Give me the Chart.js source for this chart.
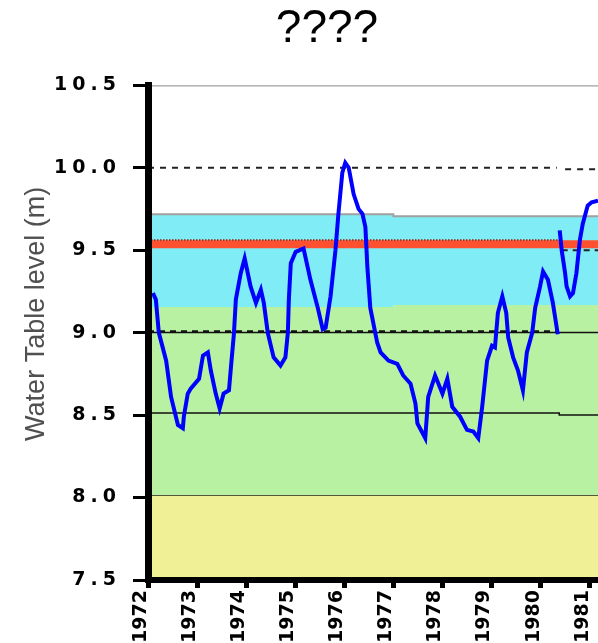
<!DOCTYPE html>
<html><head><meta charset="utf-8">
<script src="https://cdn.jsdelivr.net/npm/chart.js@4"></script>
<style>html,body{margin:0;padding:0;background:#fff;overflow:hidden}</style>
</head><body>
<canvas id="c" width="598" height="643"></canvas>
<script>
// ---- data ----
const chartTitle = '????';
const yAxisTitle = 'Water Table level (m)';
const yearTicks = [1972, 1973, 1974, 1975, 1976, 1977, 1978, 1979, 1980, 1981];
const levelTicks = [7.5, 8.0, 8.5, 9.0, 9.5, 10.0, 10.5];

const years1 = [1972.10,1972.16,1972.22,1972.37,1972.47,1972.61,1972.71,1972.73,1972.81,1972.87,
  1973.04,1973.12,1973.22,1973.28,1973.38,1973.46,1973.54,1973.65,1973.69,1973.75,
  1973.79,1973.89,1973.97,1974.09,1974.20,1974.30,1974.36,1974.44,1974.56,1974.70,
  1974.80,1974.85,1974.87,1974.91,1975.01,1975.17,1975.31,1975.46,1975.56,1975.62,
  1975.72,1975.82,1975.88,1975.96,1976.02,1976.09,1976.19,1976.29,1976.37,1976.43,
  1976.47,1976.53,1976.63,1976.67,1976.74,1976.90,1977.08,1977.20,1977.35,1977.45,
  1977.49,1977.65,1977.71,1977.85,1977.96,1978.00,1978.10,1978.20,1978.36,1978.50,
  1978.63,1978.73,1978.81,1978.91,1979.01,1979.07,1979.13,1979.22,1979.30,1979.34,
  1979.44,1979.54,1979.64,1979.72,1979.83,1979.89,1979.99,1980.05,1980.15,1980.25,
  1980.35];
const levels1 = [9.24,9.20,9.00,8.83,8.61,8.44,8.42,8.49,8.63,8.66,
  8.72,8.86,8.88,8.77,8.63,8.54,8.63,8.65,8.79,8.99,
  9.20,9.36,9.45,9.28,9.18,9.26,9.18,9.00,8.85,8.80,
  8.85,9.00,9.20,9.42,9.49,9.51,9.32,9.15,9.02,9.03,
  9.22,9.50,9.72,9.97,10.03,10.00,9.84,9.75,9.72,9.64,
  9.40,9.15,9.00,8.94,8.88,8.83,8.81,8.74,8.69,8.57,
  8.45,8.36,8.61,8.74,8.66,8.63,8.72,8.55,8.49,8.41,
  8.40,8.36,8.55,8.83,8.92,8.91,9.12,9.22,9.12,8.97,
  8.85,8.77,8.65,8.88,9.00,9.15,9.28,9.37,9.32,9.18,
  8.99];
const years2 = [1980.39,1980.43,1980.50,1980.53,1980.60,1980.66,1980.73,1980.80,1980.86,1980.96,1981.04,1981.17];
const levels2 = [9.62,9.50,9.36,9.28,9.22,9.24,9.36,9.56,9.66,9.77,9.79,9.80];

// reference levels / bands
const xStart = 1972, xEnd = 1981.17, xBreak = 1980.38, xStep = 1977.0;
const yellowTop = 8.015;
const greenTop = [9.155, 9.167];
const cyanTop = [9.718, 9.706];
const redLevel = 9.536;
const redDotted = 9.562;
const rightDashed = 9.50;
const dashed10 = [10.0, 9.99];
const solid9 = 9.0;
const dashed9 = 9.006;
const solid85 = [8.512, 8.50];
const topLevel = 10.5;

// ---- helpers ----
const pts = (xs, ys) => xs.map((x, i) => ({x, y: ys[i]}));
const flat = (a, b, y) => [{x: a, y}, {x: b, y}];
const stepLine = (v) => [{x: xStart, y: v[0]}, {x: xStep, y: v[0]}, {x: xStep, y: v[1]}, {x: xEnd, y: v[1]}];
const brk = (v) => [{x: xStart, y: v[0]}, {x: xBreak, y: v[0]}, {x: xBreak, y: v[1]}, {x: xEnd, y: v[1]}];
const ln = (data, color, width, dash, extra) => Object.assign({
  data, borderColor: color, borderWidth: width, borderDash: dash || [],
  pointRadius: 0, fill: false, tension: 0, spanGaps: false
}, extra || {});

// wide spacing for the y tick labels (drawn after the datasets)
const spacingPlugin = {
  id: 'tickSpacing',
  afterDatasetsDraw(chart) { chart.ctx.letterSpacing = '5px'; },
  afterDraw(chart) { chart.ctx.letterSpacing = '0px'; }
};

new Chart(document.getElementById('c'), {
  type: 'line',
  data: {
    datasets: [
      ln(pts(years1, levels1), '#0000FF', 4),
      ln(pts(years2, levels2), '#0000FF', 4),
      ln(flat(xStart, xBreak, redDotted), '#9a1c08', 1.5, [1.5, 1.5]),
      ln(flat(xBreak + 0.05, xEnd, rightDashed), '#222222', 2, [6, 5]),
      ln(flat(xStart, xEnd, redLevel), '#FF5030', 8),
      ln([{x: xStart, y: dashed10[0]}, {x: xBreak - 0.05, y: dashed10[0]}, {x: xBreak, y: null},
          {x: xBreak + 0.12, y: dashed10[1]}, {x: xEnd, y: dashed10[1]}], '#222222', 2, [6, 6]),
      ln(flat(xStart, xBreak - 0.03, dashed9), '#111111', 2.5, [6, 5]),
      ln(flat(xStart, xEnd, solid9), '#111111', 1.5),
      ln(brk(solid85), '#111111', 1.5),
      ln(flat(xStart, xEnd, topLevel), '#A0A0A0', 2.5),
      ln(stepLine(cyanTop), '#A0A0A0', 2, [], {fill: '+1', backgroundColor: '#80ECF6'}),
      ln(stepLine(greenTop), 'rgba(0,0,0,0)', 0, [], {fill: '+1', backgroundColor: '#B9F1A2'}),
      ln(flat(xStart, xEnd, yellowTop), '#222222', 1.5, [], {fill: 'start', backgroundColor: '#F0F196'})
    ]
  },
  options: {
    responsive: false,
    animation: false,
    devicePixelRatio: 1,
    layout: {padding: {left: 56, right: 0, top: 0, bottom: 0}},
    plugins: {
      legend: {display: false},
      tooltip: {enabled: false},
      title: {
        display: true, text: chartTitle, color: '#000',
        font: {family: 'Liberation Sans', size: 46, weight: 'normal', lineHeight: 1.2},
        padding: {top: 2, bottom: 28}
      }
    },
    scales: {
      x: {
        type: 'linear', min: xStart, max: xEnd,
        afterBuildTicks: s => { s.ticks = yearTicks.map(v => ({value: v})); },
        afterFit: s => { s.height = 63; s.paddingLeft = 0; s.paddingRight = 0; },
        ticks: {
          autoSkip: false, minRotation: 90, maxRotation: 90, includeBounds: false,
          padding: 2, labelOffset: -7, color: '#000',
          font: {family: 'DejaVu Sans', size: 19, weight: 'bold'},
          callback: v => String(v), z: 0
        },
        grid: {display: true, drawOnChartArea: false, drawTicks: true, tickLength: 8, tickWidth: 5, tickColor: '#000'},
        border: {display: true, color: '#000', width: 6, z: 1}
      },
      y: {
        type: 'linear', min: 7.5, max: 10.5,
        afterBuildTicks: s => { s.ticks = levelTicks.map(v => ({value: v})); },
        afterFit: s => { s.width = 92; s.paddingTop = 0; s.paddingBottom = 0; },
        ticks: {padding: 12, color: '#000', font: {family: 'DejaVu Sans', size: 19, weight: 'bold'},
                callback: v => v.toFixed(1), z: 1},
        grid: {display: true, drawOnChartArea: false, drawTicks: true, tickLength: 15, tickWidth: 3, tickColor: '#000'},
        border: {display: true, color: '#000', width: 7, z: 1},
        title: {
          display: true, text: '     ' + yAxisTitle, color: '#505050',
          font: {family: 'Liberation Sans', size: 27, weight: 'normal', lineHeight: 1.2},
          padding: {top: -36, bottom: 0}
        }
      }
    }
  },
  plugins: [spacingPlugin]
});
</script>
</body></html>
